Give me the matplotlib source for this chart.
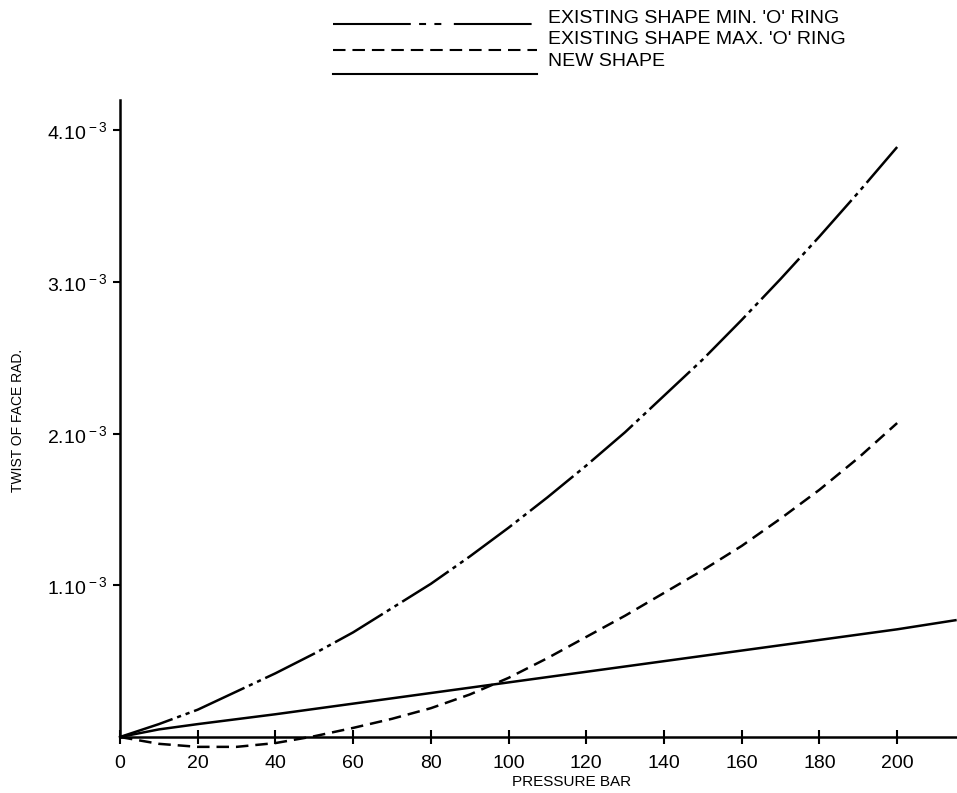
import numpy as np
import matplotlib.pyplot as plt
from matplotlib.lines import Line2D

plt.rcParams['font.family'] = ['Liberation Sans', 'DejaVu Sans']
plt.rcParams['mathtext.fontset'] = 'custom'
plt.rcParams['mathtext.rm'] = 'Liberation Sans'
plt.rcParams['mathtext.default'] = 'regular'
plt.rcParams['lines.scale_dashes'] = False

# twist values in units of 10^-3 rad
pressure = [0, 10, 20, 30, 40, 50, 60, 70, 80, 90, 100,
            110, 120, 130, 140, 150, 160, 170, 180, 190, 200]
twist_min = [0, 0.085, 0.18, 0.30, 0.42, 0.55, 0.69, 0.85, 1.01, 1.19, 1.38,
             1.58, 1.79, 2.01, 2.25, 2.49, 2.75, 3.02, 3.30, 3.59, 3.89]
twist_max = [0, -0.045, -0.065, -0.065, -0.04, 0.005, 0.06, 0.12, 0.19, 0.28, 0.39,
             0.52, 0.66, 0.80, 0.95, 1.10, 1.26, 1.44, 1.63, 1.84, 2.07]

p_new = [0, 10, 20, 40, 60, 80, 100, 120, 140, 160, 180, 200, 215]
twist_new = [0, 0.05, 0.085, 0.15, 0.22, 0.29, 0.36, 0.43, 0.50, 0.57, 0.64, 0.71, 0.77]

legend_labels = ["EXISTING SHAPE MIN. 'O' RING",
                 "EXISTING SHAPE MAX. 'O' RING",
                 "NEW SHAPE"]
x_ticks = [0, 20, 40, 60, 80, 100, 120, 140, 160, 180, 200]
y_ticks = [1, 2, 3, 4]
y_tick_labels = [r'1.10$\,^{-\,3}$', r'2.10$\,^{-\,3}$', r'3.10$\,^{-\,3}$', r'4.10$\,^{-\,3}$']

W, H = 957, 793
fig = plt.figure(figsize=(W / 100, H / 100), dpi=100)
ax = fig.add_axes([120 / W, 1 - 737 / H, (W - 120) / W, (737 - 100) / H])

lw = 1.8
dash_dot = (0, (40, 3.5, 3, 3.5, 3, 3.5))
dashed = (0, (9, 5))

ax.plot(pressure, twist_min, color='black', lw=lw, linestyle=dash_dot, clip_on=False)
ax.plot(pressure, twist_max, color='black', lw=lw, linestyle=dashed, clip_on=False)
ax.plot(p_new, twist_new, color='black', lw=lw, linestyle='-', clip_on=False)

ax.set_xlim(0, 215.4)
ax.set_ylim(0, 4.2)
ax.set_xticks(x_ticks)
ax.set_yticks(y_ticks)
ax.set_yticklabels(y_tick_labels)
ax.tick_params(axis='both', labelsize=14, width=1.5, color='black')
ax.tick_params(axis='x', direction='inout', length=10, pad=8)
ax.tick_params(axis='y', direction='out', length=5, pad=4)

for side in ['top', 'right']:
    ax.spines[side].set_visible(False)
for side in ['left', 'bottom']:
    ax.spines[side].set_linewidth(1.8)

fig.text(512 / W, 1 - 782 / H, 'PRESSURE BAR', fontsize=11, ha='left', va='center')
fig.text(18 / W, 1 - 420 / H, 'TWIST OF FACE RAD.', fontsize=10, rotation=90,
         ha='center', va='center')

# legend drawn by hand at the top
leg_styles = [(0, (56, 6, 5, 6, 5, 9)), dashed, '-']
leg_line_y = [24, 50, 74]
leg_text_y = [18.5, 40, 61.5]
for style, ly, ty, label in zip(leg_styles, leg_line_y, leg_text_y, legend_labels):
    fig.add_artist(Line2D([333 / W, 537 / W], [1 - ly / H, 1 - ly / H],
                          transform=fig.transFigure, color='black', lw=1.5,
                          linestyle=style))
    fig.text(548 / W, 1 - ty / H, label, fontsize=14, ha='left', va='center')

plt.savefig('out.png', dpi=100)
